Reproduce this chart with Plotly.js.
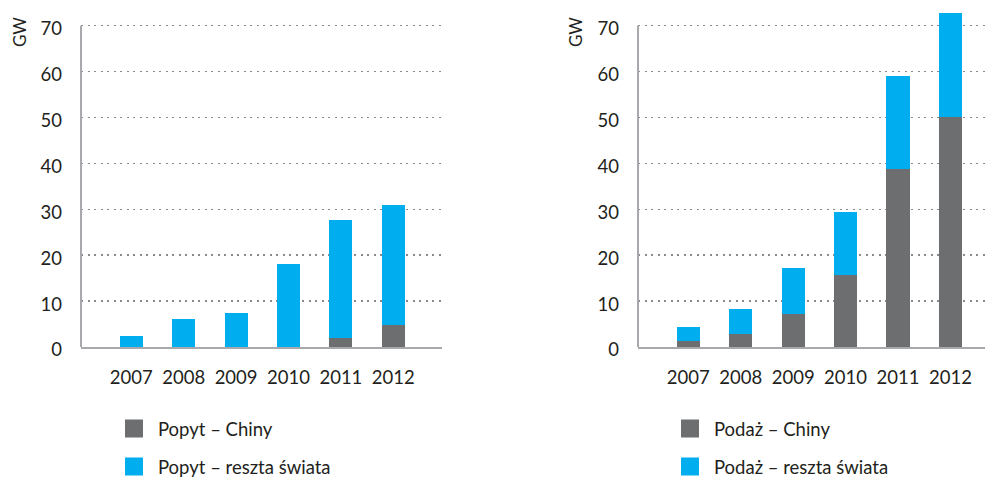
<!DOCTYPE html>
<html>
<head>
<meta charset="utf-8">
<script src="https://cdn.plot.ly/plotly-3.0.1.min.js"></script>
<style>html,body{margin:0;padding:0;background:#fff;}#chart{width:985px;height:477px;}</style>
</head>
<body>
<div id="chart"></div>
<script>
// Data
const years = ['2007', '2008', '2009', '2010', '2011', '2012'];
const demandChina = [0, 0, 0, 0, 2.0, 4.9];
const demandRest = [2.4, 6.1, 7.4, 18.1, 25.7, 26.0];
const supplyChina = [1.3, 2.8, 7.2, 15.7, 38.8, 50.1];
const supplyRest = [3.1, 5.5, 10.0, 13.7, 20.2, 22.7];
const yTicks = [0, 10, 20, 30, 40, 50, 60, 70];
const seriesNames = ['Popyt – Chiny', 'Popyt – reszta świata', 'Podaż – Chiny', 'Podaż – reszta świata'];
const unitLabel = 'GW';

const GRAY = '#6d6e70';
const BLUE = '#00aeef';
const FONT = 'Lato, "Open Sans", sans-serif';
const W = 985, H = 477;
const px = v => v / W;
const py = v => 1 - v / H;

function bar(x, y, color, xa, ya) {
  return {type: 'bar', x: x, y: y, xaxis: xa, yaxis: ya, width: 0.44,
    marker: {color: color, line: {width: 0}}, showlegend: false, hoverinfo: 'x+y'};
}
function legendItem(name, color, xa, ya, leg) {
  return {type: 'scatter', mode: 'markers', x: [null], y: [null], xaxis: xa, yaxis: ya,
    name: name, legend: leg, legendgroup: name,
    marker: {symbol: 'square', size: 16, color: color, line: {width: 2, color: color}}};
}

const traces = [
  bar(years, demandChina, GRAY, 'x', 'y'),
  bar(years, demandRest, BLUE, 'x', 'y'),
  bar(years, supplyChina, GRAY, 'x2', 'y2'),
  bar(years, supplyRest, BLUE, 'x2', 'y2'),
  legendItem(seriesNames[0], GRAY, 'x', 'y', 'legend'),
  legendItem(seriesNames[1], BLUE, 'x', 'y', 'legend'),
  legendItem(seriesNames[2], GRAY, 'x2', 'y2', 'legend2'),
  legendItem(seriesNames[3], BLUE, 'x2', 'y2', 'legend2')
];

const yMax = 75.6;
function yaxis(anchor) {
  return {anchor: anchor, domain: [py(347), 1], range: [0, yMax], tickvals: yTicks,
    showgrid: true, gridcolor: '#8a8a8a', gridwidth: 1.5, griddash: '2px,4.5px',
    zeroline: false, showline: false, ticks: '', ticklabelstandoff: 18, ticklabelshift: 3,
    tickfont: {family: FONT, size: 18.5, color: '#231f20'}, fixedrange: true};
}
function xaxis(anchor, d0, d1, r1) {
  return {anchor: anchor, domain: [px(d0), px(d1)], type: 'category', range: [-0.96, r1],
    showgrid: false, zeroline: false, showline: true, linecolor: '#a7a9ac', linewidth: 2,
    ticks: '', ticklabelstandoff: 13,
    tickfont: {family: FONT, size: 18.5, color: '#231f20'}, fixedrange: true};
}

const legendBase = {orientation: 'v', xanchor: 'left', yanchor: 'top',
  font: {family: FONT, size: 18.5, color: '#231f20'}, bgcolor: 'rgba(0,0,0,0)',
  itemwidth: 38, tracegroupgap: 11, itemclick: false, itemdoubleclick: false};

const layout = {
  width: W, height: H,
  margin: {l: 0, r: 0, t: 0, b: 0, pad: 0, autoexpand: false},
  paper_bgcolor: '#fff', plot_bgcolor: '#fff',
  barmode: 'stack',
  showlegend: true,
  xaxis: xaxis('y', 81, 442, 5.93),
  yaxis: yaxis('x'),
  xaxis2: xaxis('y2', 638, 985, 5.66),
  yaxis2: yaxis('x2'),
  legend: Object.assign({}, legendBase, {x: px(110), y: py(410)}),
  legend2: Object.assign({}, legendBase, {x: px(666), y: py(410)}),
  shapes: [
    {type: 'line', xref: 'x domain', yref: 'y', x0: 0, x1: 0, y0: 0, y1: 70,
     line: {color: '#a7a9ac', width: 2}},
    {type: 'line', xref: 'x2 domain', yref: 'y2', x0: 0, x1: 0, y0: 0, y1: 70,
     line: {color: '#a7a9ac', width: 2}}
  ],
  annotations: [
    {text: unitLabel, xref: 'paper', yref: 'paper', x: px(19), y: py(32), textangle: -90,
     xanchor: 'center', yanchor: 'middle',
     showarrow: false, font: {family: FONT, size: 17, color: '#231f20'}},
    {text: unitLabel, xref: 'paper', yref: 'paper', x: px(575), y: py(32), textangle: -90,
     xanchor: 'center', yanchor: 'middle',
     showarrow: false, font: {family: FONT, size: 17, color: '#231f20'}}
  ]
};

Plotly.newPlot('chart', traces, layout, {displayModeBar: false, staticPlot: true});
</script>
</body>
</html>
